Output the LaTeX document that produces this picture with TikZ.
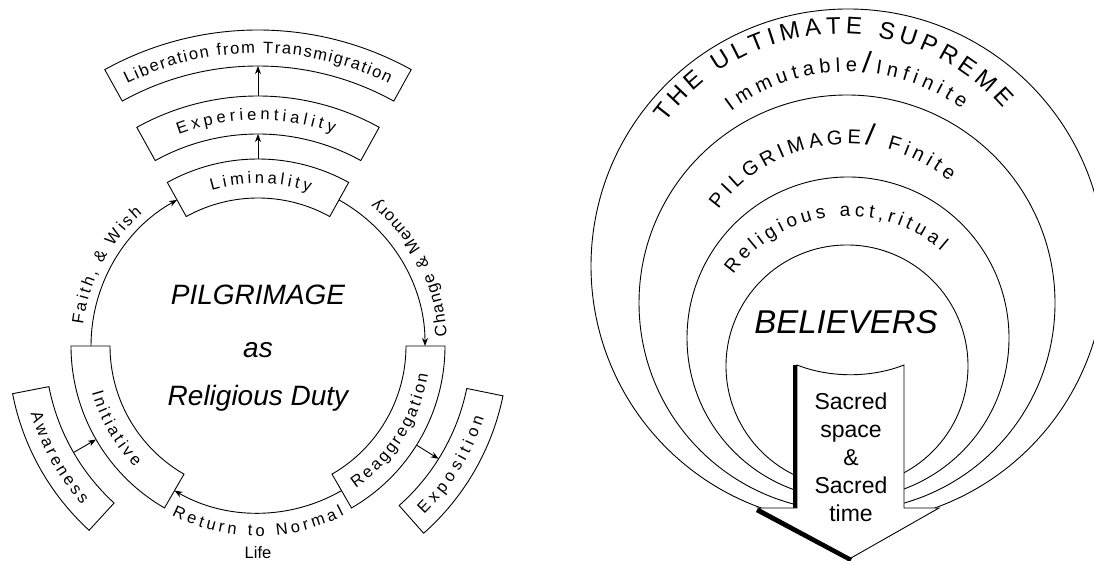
\documentclass[tikz,border=0pt]{standalone}
\usepackage{fontspec}
\setmainfont{Liberation Sans}
\usetikzlibrary{arrows.meta,decorations.text}

\newcommand{\boxfont}{\fontsize{16.5}{16.5}\selectfont}
\newcommand{\ringfont}{\fontsize{20}{20}\selectfont}
\newcommand{\slashfont}{\fontsize{30}{30}\selectfont}

\tikzset{
  outline/.style={line width=0.9pt},
  flow/.style={line width=0.9pt,-{Stealth[length=8pt,width=6pt,inset=2.5pt]}},
  along/.style={decorate,decoration={text along path,text align={fit to path},#1}},
}

\begin{document}
\begin{tikzpicture}[x=1pt,y=1pt]
\useasboundingbox (0,0) rectangle (1094,561);

\begin{scope}[shift={(258,215)}]
  \def\r{167}
  \foreach \a/\b/\ri/\ro in {119/61/148/187, 119/61/212/250, 119/61/280/316,
                             180/240/148/187, 191/227.5/213/250,
                             -60/0/148/187, -48.5/-11.5/213/250}
    \draw[outline] (\a:\ri) arc[start angle=\a,end angle=\b,radius=\ri]
      -- (\b:\ro) arc[start angle=\b,end angle=\a,radius=\ro] -- cycle;
  \foreach \a/\b/\rr/\txt in {106.5/71.5/167.5/Liminality,
                              110.5/70.5/231/Experientiality,
                              116.5/63.5/298/Liberation from Transmigration,
                              195.5/224.5/167.5/Initiative,
                              196.5/222/232/Awareness,
                              -55.5/-9.5/167.5/Reaggregation,
                              -45.5/-17.5/232/Exposition}
    \path[along={raise=-5pt,text/.expanded={|\noexpand\boxfont|\txt}}]
      (\a:\rr) arc[start angle=\a,end angle=\b,radius=\rr];

  \coordinate (lim-top) at (90:187);
  \coordinate (exp-bot) at (90:212);
  \coordinate (exp-top) at (90:250);
  \coordinate (lib-bot) at (90:280);
  \coordinate (awa-in) at (210:213);
  \coordinate (ini-out) at (210:187);
  \coordinate (rea-out) at (-32:187);
  \coordinate (expo-in) at (-32:213);
  \draw[flow] (lim-top) -- (exp-bot);
  \draw[flow] (exp-top) -- (lib-bot);
  \draw[flow] (awa-in) -- (ini-out);
  \draw[flow] (rea-out) -- (expo-in);

  \draw[flow] (180:\r) arc[start angle=180,end angle=119,radius=\r];
  \draw[flow] (61:\r) arc[start angle=61,end angle=0,radius=\r];
  \draw[flow] (-60:\r) arc[start angle=-60,end angle=-120,radius=\r];

  \path[along={text={|\boxfont|Faith, {\&} Wish}}]
    (173:176) arc[start angle=173,end angle=131,radius=176];
  \path[along={text={|\boxfont|Change {\&} Memory}}]
    (3:189) arc[start angle=3,end angle=51,radius=189];
  \path[along={text={|\boxfont|Return to Normal}}]
    (243:190) arc[start angle=243,end angle=297,radius=190];
  \node[font=\boxfont] (life) at (0,-207) {Life};

  \node[font=\fontsize{28}{28}\selectfont\itshape] (pilgrimage) at (0,51) {PILGRIMAGE};
  \node[font=\fontsize{28}{28}\selectfont\itshape] (as) at (0,-4) {as};
  \node[font=\fontsize{28}{28}\selectfont\itshape] (duty) at (0,-52) {Religious Duty};
\end{scope}

\foreach \cx/\cy/\rr in {848/295/257, 847/258/208, 848/223/161, 847/195/121}
  \draw[outline] (\cx,\cy) circle[radius=\rr];

\path[shift={(840,311)},along={text={|\fontsize{24}{24}\selectfont|THE ULTIMATE SUPREME}}]
  (144:216) arc[start angle=144,end angle=41,radius=216];
\path[shift={(848,295)},along={text={|\ringfont|Immutable|\slashfont|/|\ringfont|Infinite}}]
  (127:194) arc[start angle=127,end angle=54,radius=194];
\path[shift={(847,258)},along={text={|\ringfont|PILGRIMAGE|\slashfont|/|\ringfont| Finite}}]
  (144:159) arc[start angle=144,end angle=50,radius=159];
\path[shift={(848,203)},along={text={|\fontsize{19}{19}\selectfont|Religious act,ritual}}]
  (144:142) arc[start angle=144,end angle=49,radius=142];

\node[font=\fontsize{33}{33}\selectfont\itshape] (believers) at (846,239) {BELIEVERS};

\coordinate (shaft-tl) at (797,196);
\coordinate (shaft-tr) at (904,196);
\coordinate (shaft-bl) at (797,53);
\coordinate (shaft-br) at (904,53);
\coordinate (wing-l) at (758,53);
\coordinate (wing-r) at (939,53);
\coordinate (tip) at (851,3);
\draw[line width=4pt] ([xshift=-2pt]shaft-tl) -- ([xshift=-2pt]shaft-bl);
\draw[line width=4.5pt] ([shift={(-1pt,-2pt)}]wing-l) -- ([yshift=-2pt]tip);
\draw[outline,fill=white] (shaft-tl) .. controls (830,183) and (871,183) .. (shaft-tr)
  -- (shaft-br) -- (wing-r) -- (tip) -- (wing-l) -- (shaft-bl) -- cycle;
\node[align=center,font=\fontsize{23}{28}\selectfont] (sacred) at (851,104)
  {Sacred\\space\\\&\\Sacred\\time};
\end{tikzpicture}
\end{document}
